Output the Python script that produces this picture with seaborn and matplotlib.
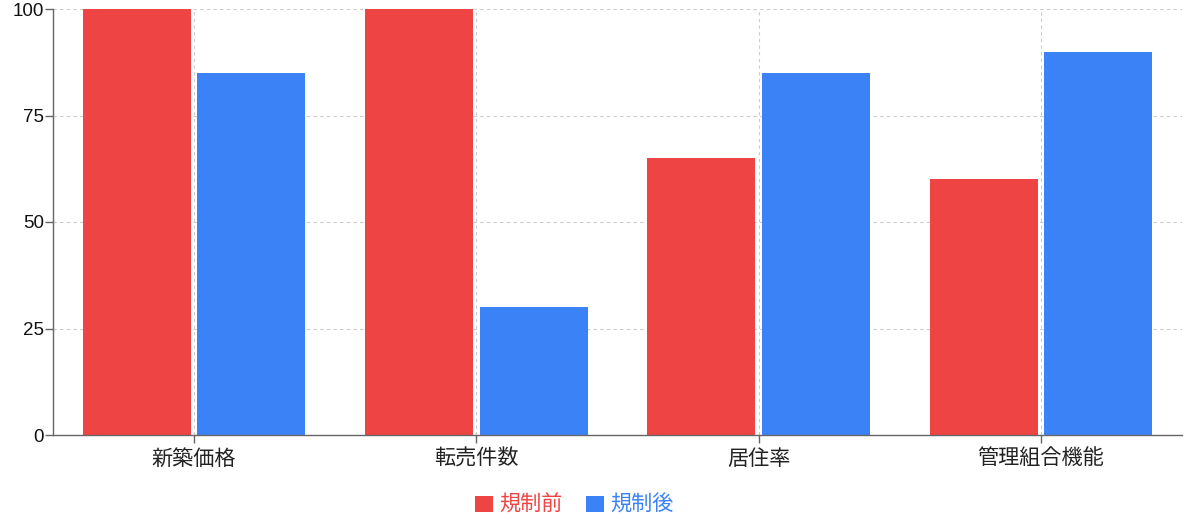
import matplotlib
matplotlib.use('Agg')
import matplotlib.pyplot as plt
import pandas as pd
import seaborn as sns

CATEGORIES = ['新築価格', '転売件数', '居住率', '管理組合機能']
BEFORE = [100, 100, 65, 60]
AFTER = [85, 30, 85, 90]
SERIES = ['規制前', '規制後']
Y_TICKS = [0, 25, 50, 75, 100]

COLORS = {'規制前': '#EF4444', '規制後': '#3B82F6'}
JP_FONT = ['Noto Sans CJK JP', 'DejaVu Sans']


def main():
    sns.set_style('white')
    plt.rcParams['font.family'] = JP_FONT

    data = pd.DataFrame({
        'category': CATEGORIES * 2,
        'value': BEFORE + AFTER,
        'phase': [SERIES[0]] * len(CATEGORIES) + [SERIES[1]] * len(CATEGORIES),
    })

    fig = plt.figure(figsize=(11.97, 5.24), dpi=100)
    ax = fig.add_axes([53 / 1197, 1 - 435 / 524, (1182 - 53) / 1197, (435 - 9) / 524])

    sns.barplot(data=data, x='category', y='value', hue='phase', order=CATEGORIES,
                hue_order=SERIES, palette=COLORS, width=0.81, gap=0.055,
                linewidth=0, saturation=1, ax=ax, zorder=3)

    ax.set_xlim(-0.5, len(CATEGORIES) - 0.5)
    ax.set_ylim(0, 100)
    ax.set_yticks(Y_TICKS)
    ax.set_yticklabels([str(v) for v in Y_TICKS], family='Liberation Sans', fontsize=13.5)
    ax.set_xlabel('')
    ax.set_ylabel('')
    ax.tick_params(axis='x', labelsize=15.2, length=6, width=1, color='#666666',
                   pad=3, direction='out', bottom=True, labelcolor='#222222')
    ax.tick_params(axis='y', length=6, width=1, color='#666666', pad=0.5,
                   direction='out', left=True, labelcolor='#111111')

    # dashed grid behind the bars
    grid_kw = dict(color='#cccccc', lw=0.8, ls=(0, (3, 3)), zorder=1)
    for y in Y_TICKS[1:]:
        ax.axhline(y, **grid_kw)
    for x in range(len(CATEGORIES)):
        ax.axvline(x, **grid_kw)
    ax.axvline(len(CATEGORIES) - 0.5, **grid_kw)

    for side in ['top', 'right']:
        ax.spines[side].set_visible(False)
    for side in ['left', 'bottom']:
        ax.spines[side].set_color('#666666')
        ax.spines[side].set_linewidth(1)
        ax.spines[side].set_zorder(4)

    handles, labels = ax.get_legend_handles_labels()
    ax.legend_.remove()
    fig.legend(handles, labels, loc='center', bbox_to_anchor=(574 / 1197, 1 - 505 / 524),
               ncol=2, frameon=False, fontsize=15.2, handlelength=0.85, handleheight=0.8,
               handletextpad=0.3, columnspacing=1.1,
               labelcolor=[COLORS[s] for s in SERIES])

    fig.savefig('out.png', dpi=100)
    plt.close(fig)


if __name__ == "__main__":
    main()
